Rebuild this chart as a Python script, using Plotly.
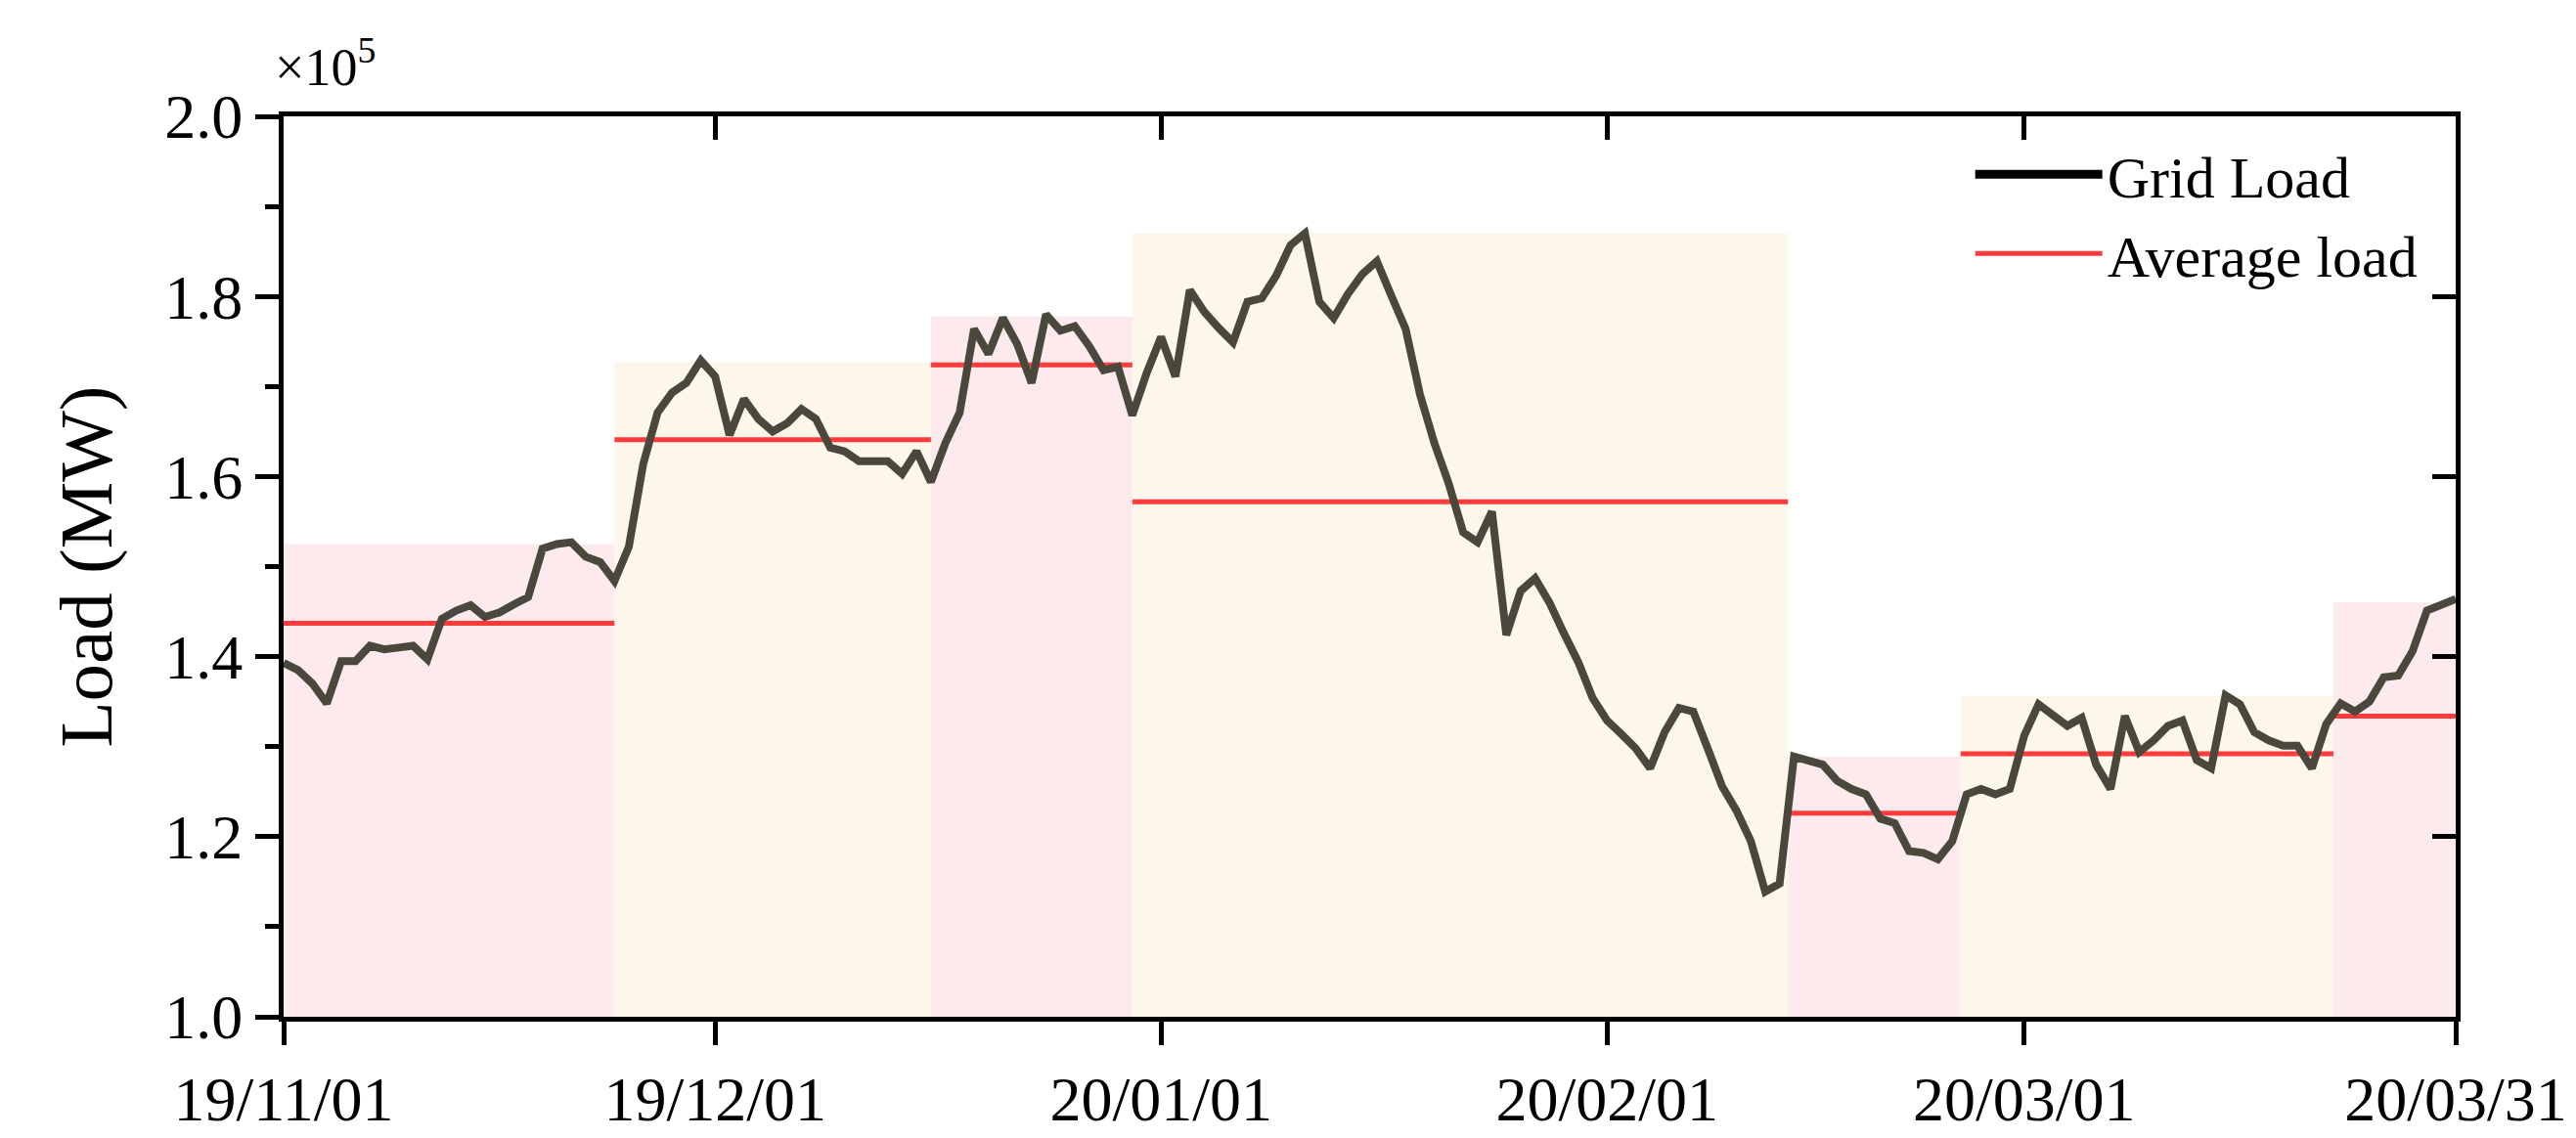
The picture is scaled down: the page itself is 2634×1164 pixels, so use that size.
import plotly.graph_objects as go
import pandas as pd

dates = pd.date_range("2019-11-01", "2020-03-31", freq="D")
load = [1.393,1.385,1.370,1.348,1.395,1.395,1.412,1.408,1.410,1.412,1.397,1.442,1.451,1.457,1.444,1.449,1.458,1.466,1.520,1.525,
1.527,1.511,1.505,1.484,1.522,1.614,1.671,1.693,1.704,1.729,1.711,1.646,1.686,1.664,1.650,1.659,1.675,1.664,1.632,1.628,
1.617,1.616,1.617,1.603,1.628,1.594,1.637,1.671,1.764,1.736,1.776,1.747,1.704,1.780,1.762,1.767,1.745,1.718,1.722,1.668,
1.715,1.755,1.711,1.807,1.783,1.765,1.749,1.794,1.798,1.823,1.857,1.870,1.794,1.776,1.803,1.825,1.839,1.801,1.764,1.691,
1.637,1.592,1.538,1.527,1.561,1.424,1.473,1.487,1.460,1.426,1.394,1.354,1.329,1.314,1.298,1.276,1.316,1.343,1.339,1.298,
1.256,1.229,1.195,1.139,1.148,1.289,1.285,1.280,1.262,1.253,1.247,1.220,1.215,1.184,1.182,1.175,1.195,1.247,1.253,1.247,
1.253,1.312,1.347,1.334,1.323,1.332,1.280,1.253,1.334,1.294,1.307,1.323,1.329,1.285,1.276,1.357,1.347,1.316,1.307,1.301,
1.301,1.276,1.325,1.348,1.339,1.350,1.377,1.379,1.406,1.451,1.458,1.464]

seg_start = ["2019-11-01","2019-11-24","2019-12-16","2019-12-30","2020-02-13 14:00","2020-02-25 14:00","2020-03-22 12:00"]
seg_end   = ["2019-11-24","2019-12-16","2019-12-30","2020-02-13 14:00","2020-02-25 14:00","2020-03-22 12:00","2020-03-31"]
seg_max   = [1.525,1.727,1.778,1.870,1.289,1.356,1.460]
seg_avg   = [1.437,1.641,1.724,1.572,1.226,1.292,1.334]
seg_color = ["#fdeaec","#fdf6ea","#fdeaec","#fdf6ea","#fdeaec","#fdf6ea","#fdeaec"]

xticks = ["2019-11-01","2019-12-01","2020-01-01","2020-02-01","2020-03-01","2020-03-31"]
xticktext = ["19/11/01","19/12/01","20/01/01","20/02/01","20/03/01","20/03/31"]
yticks = [1.0,1.2,1.4,1.6,1.8,2.0]
yminor = [1.1,1.3,1.5,1.7,1.9]

FONT = "Liberation Serif, Times New Roman, serif"
fig = go.Figure()
for s, e, m, c in zip(seg_start, seg_end, seg_max, seg_color):
    fig.add_shape(type="rect", xref="x", yref="y", x0=s, x1=e, y0=1.0, y1=m,
                  fillcolor=c, line_width=0, layer="below")
for s, e, a in zip(seg_start, seg_end, seg_avg):
    fig.add_trace(go.Scatter(x=[s, e], y=[a, a], mode="lines", line=dict(color="#ff3b3b", width=5),
                             showlegend=False))
fig.add_trace(go.Scatter(x=dates, y=load, mode="lines", line=dict(color="#4a473d", width=8), showlegend=False))
fig.add_trace(go.Scatter(x=[None], y=[None], mode="lines", line=dict(color="black", width=9), name="Grid Load"))
fig.add_trace(go.Scatter(x=[None], y=[None], mode="lines", line=dict(color="#ff3b3b", width=5), name="Average load"))

xr = ["2019-11-01", "2020-03-31"]
common = dict(showgrid=False, zeroline=False, linecolor="black", linewidth=5, tickcolor="black", tickwidth=5)
fig.update_layout(
    width=2634, height=1164, plot_bgcolor="white", paper_bgcolor="white",
    margin=dict(l=282, r=131, t=111, b=123),
    font=dict(family=FONT, size=64, color="black"),
    xaxis=dict(type="date", range=xr, tickvals=xticks, ticktext=xticktext, ticks="outside", ticklen=24,
               showline=True, **common),
    yaxis=dict(range=[1.0, 2.0], tickvals=yticks, ticktext=[f"{v:.1f}" for v in yticks], ticks="outside",
               ticklen=24, showline=True, title=dict(text="Load (MW)", standoff=30),
               minor=dict(tickvals=yminor, ticks="outside", ticklen=14, tickwidth=5, tickcolor="black"), **common),
    xaxis2=dict(type="date", range=xr, overlaying="x", side="top", tickvals=xticks, showticklabels=False,
                ticks="inside", ticklen=24, showline=True, **common),
    yaxis2=dict(range=[1.0, 2.0], overlaying="y", side="right", tickvals=yticks, showticklabels=False,
                ticks="inside", ticklen=24, showline=True, **common),
    legend=dict(x=0.985, y=0.985, xanchor="right", yanchor="top", bgcolor="rgba(0,0,0,0)",
                font=dict(size=60), itemwidth=130),
    annotations=[dict(text="×10<sup>5</sup>", xref="paper", yref="paper", x=-0.005, y=1.02,
                      xanchor="left", yanchor="bottom", showarrow=False, font=dict(size=54))],
)
fig.add_trace(go.Scatter(x=[None], y=[None], xaxis="x2", yaxis="y2", showlegend=False))
fig.write_html("out.html")
